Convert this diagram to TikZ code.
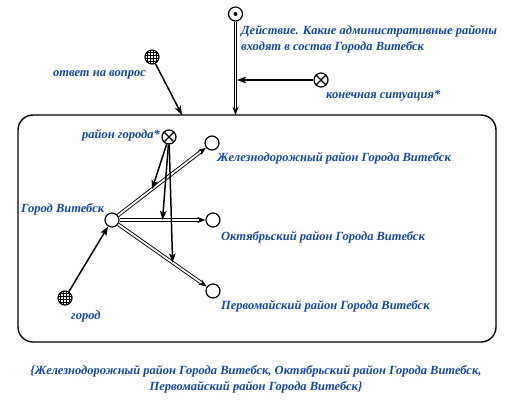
\documentclass[tikz,border=0pt]{standalone}
\usepackage{fontspec}
\setmainfont{Liberation Serif}
\usetikzlibrary{arrows.meta,calc}
\definecolor{lblblue}{RGB}{20,70,170}
\begin{document}
\begin{tikzpicture}[x=1pt,y=-1pt,
 lbl/.style={text=lblblue,font=\bfseries\itshape\fontsize{12.5}{16}\selectfont,inner sep=0pt},
 pt/.style={circle,draw,line width=1.2pt,minimum size=14pt,inner sep=0pt,fill=white},
 crossed/.style={pt,path picture={\draw[black,line width=1.1pt] (path picture bounding box.north west)--(path picture bounding box.south east) (path picture bounding box.north east)--(path picture bounding box.south west);}},
 dotpt/.style={pt,path picture={\fill[black] (path picture bounding box.center) circle (2pt);}},
 gridpt/.style={pt,path picture={\foreach \d in {-4.2,-1.4,1.4,4.2}{\draw[black,line width=0.8pt] ($(path picture bounding box.center)+(\d,-8)$)--++(0,16); \draw[black,line width=0.8pt] ($(path picture bounding box.center)+(-8,\d)$)--++(16,0);}}},
 arr/.style={line width=1.5pt,-{Stealth[length=9pt,width=6.5pt,inset=2pt]}},
 dbl/.style={double,double distance=1.8pt,line width=0.9pt,-{Stealth[length=8pt,width=6pt,inset=2pt]}},
 frame/.style={draw,line width=1.4pt,rounded corners=15pt,minimum width=478pt,minimum height=227pt,inner sep=0pt},
]
\useasboundingbox (0,0) rectangle (517,402);
% frame
\node[frame] (fr) at (257,228.5) {};
\coordinate (f1) at (182,115);
\coordinate (f2) at (235.5,115);
% outer nodes
\node[dotpt] (act) at (235.5,14) {};
\node[lbl,anchor=north west,align=left] (actl) at (241,25) {Действие. Какие административные районы\\входят в состав Города Витебск};
\node[gridpt] (ans) at (152,57) {};
\node[lbl,anchor=base east] (ansl) at (146,76) {ответ на вопрос};
\node[crossed] (fin) at (321,80) {};
\node[lbl,anchor=base west] (finl) at (326,98) {конечная ситуация*};
\coordinate (fj) at (237,80);
% inner nodes
\node[crossed] (dist) at (169,137) {};
\node[lbl,anchor=base east] (distl) at (160,138) {район города*};
\node[pt] (gv) at (112,220) {};
\node[lbl,anchor=base west] (gvl) at (21,212) {Город Витебск};
\node[pt] (zh) at (212,143) {};
\node[lbl,anchor=base west] (zhl) at (217,161) {Железнодорожный район Города Витебск};
\node[pt] (ok) at (213,220) {};
\node[lbl,anchor=base west] (okl) at (221,240) {Октябрьский район Города Витебск};
\node[pt] (pv) at (213,291) {};
\node[lbl,anchor=base west] (pvl) at (221,309) {Первомайский район Города Витебск};
\node[gridpt] (city) at (65,298) {};
\node[lbl,anchor=base west] (cityl) at (71,319) {город};
% bottom text
\node[lbl,align=center,anchor=north] (res) at (256,365) {\{Железнодорожный район Города Витебск, Октябрьский район Города Витебск,\\Первомайский район Города Витебск\}};
% connectors
\draw[dbl] (act) -- (f2);
\draw[arr] (fin) -- (fj);
\draw[arr] (ans) -- (f1);
\draw[arr] (city) -- (gv);
\draw[dbl] (gv) -- (zh);
\draw[dbl] (gv) -- (ok);
\draw[dbl] (gv) -- (pv);
\coordinate (c1) at ($(gv)!0.4!(zh)$);
\coordinate (c2) at ($(gv)!0.5!(ok)$);
\coordinate (c3) at ($(gv)!0.6!(pv)$);
\draw[arr] (dist) -- (c1);
\draw[arr] (dist) -- (c2);
\draw[arr] (dist) -- (c3);
\end{tikzpicture}
\end{document}
